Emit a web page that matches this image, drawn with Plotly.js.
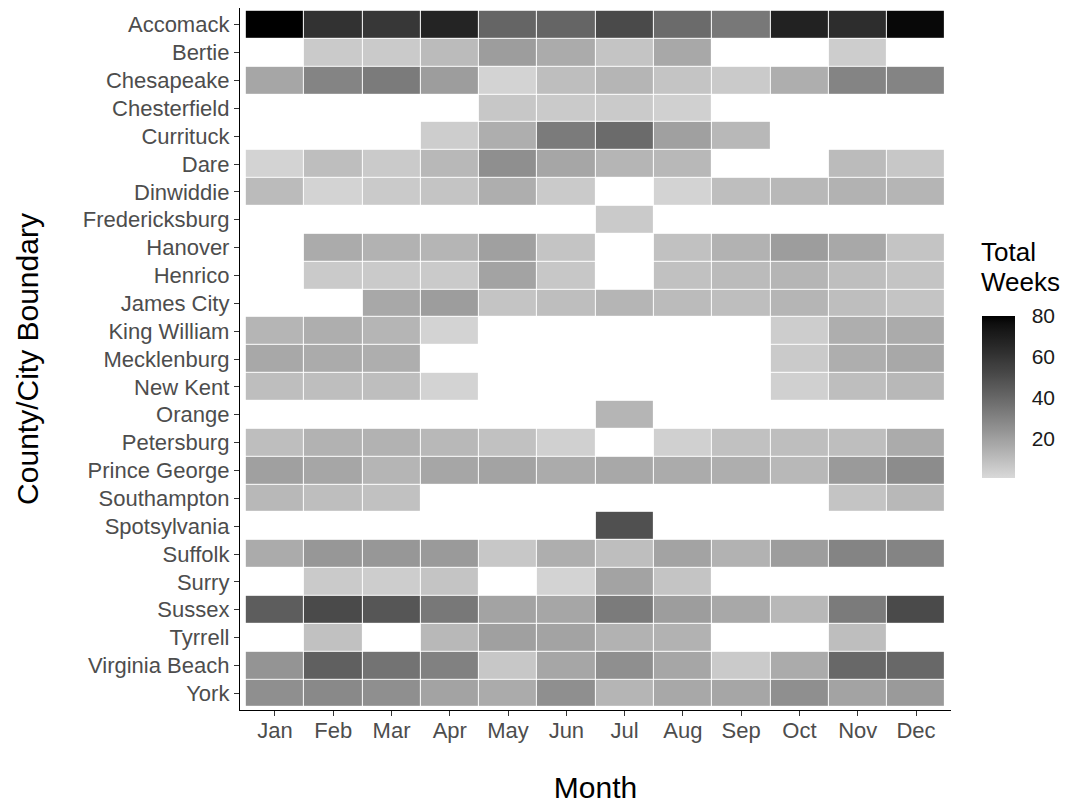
<!DOCTYPE html>
<html>
<head>
<meta charset="utf-8">
<script src="https://cdn.plot.ly/plotly-3.0.1.min.js"></script>
<style>html,body{margin:0;padding:0;background:#fff;}#chart{width:1077px;height:804px;}</style>
</head>
<body>
<div id="chart"></div>
<script>
var months = ["Jan","Feb","Mar","Apr","May","Jun","Jul","Aug","Sep","Oct","Nov","Dec"];
var counties = ["Accomack","Bertie","Chesapeake","Chesterfield","Currituck","Dare","Dinwiddie","Fredericksburg","Hanover","Henrico","James City","King William","Mecklenburg","New Kent","Orange","Petersburg","Prince George","Southampton","Spotsylvania","Suffolk","Surry","Sussex","Tyrrell","Virginia Beach","York"];

var accomack      = [80, 61, 59, 67, 41, 41, 51, 39, 34, 68, 63, 78];
var bertie        = [null, 6, 6, 11, 21, 16, 8, 17, null, null, 5, null];
var chesapeake    = [18, 30, 33, 21, 3, 10, 13, 8, 6, 15, 30, 30];
var chesterfield  = [null, null, null, null, 7, 6, 6, 4, null, null, null, null];
var currituck     = [null, null, null, 5, 15, 33, 39, 20, 12, null, null, null];
var dare          = [3, 10, 6, 12, 26, 18, 13, 12, null, null, 11, 7];
var dinwiddie     = [11, 3, 6, 8, 15, 6, null, 3, 10, 12, 14, 13];
var fredericksburg= [null, null, null, null, null, null, 6, null, null, null, null, null];
var hanover       = [null, 16, 14, 13, 20, 8, null, 9, 14, 21, 17, 8];
var henrico       = [null, 6, 6, 6, 19, 7, null, 9, 11, 13, 10, 8];
var jamesCity     = [null, null, 17, 21, 8, 10, 13, 11, 10, 13, 10, 8];
var kingWilliam   = [13, 15, 13, 3, null, null, null, null, null, 5, 15, 16];
var mecklenburg   = [17, 16, 15, null, null, null, null, null, null, 6, 15, 17];
var newKent       = [10, 10, 10, 3, null, null, null, null, null, 4, 10, 12];
var orange        = [null, null, null, null, null, null, 13, null, null, null, null, null];
var petersburg    = [10, 14, 14, 12, 9, 4, null, 4, 9, 10, 10, 16];
var princeGeorge  = [20, 18, 13, 18, 19, 16, 17, 16, 15, 12, 22, 27];
var southampton   = [12, 10, 9, null, null, null, null, null, null, null, 8, 12];
var spotsylvania  = [null, null, null, null, null, null, 49, null, null, null, null, null];
var suffolk       = [16, 23, 23, 22, 7, 15, 10, 19, 14, 21, 30, 30];
var surry         = [null, 6, 5, 8, null, 3, 19, 8, null, null, null, null];
var sussex        = [44, 51, 47, 34, 19, 18, 33, 21, 17, 12, 33, 51];
var tyrrell       = [null, 9, null, 12, 20, 19, 14, 14, null, null, 10, null];
var virginiaBeach = [24, 43, 36, 31, 7, 18, 26, 18, 6, 16, 40, 40];
var york          = [26, 28, 26, 19, 16, 26, 13, 17, 18, 26, 19, 22];

var z = [accomack, bertie, chesapeake, chesterfield, currituck, dare, dinwiddie, fredericksburg,
         hanover, henrico, jamesCity, kingWilliam, mecklenburg, newKent, orange, petersburg,
         princeGeorge, southampton, spotsylvania, suffolk, surry, sussex, tyrrell, virginiaBeach, york];

var colorbarTicks = [20, 40, 60, 80];
var legendTitleLines = ['Total', 'Weeks'];

// grey scale interpolated in CIELAB lightness (like ggplot2 scale_fill_gradient)
function greyFromL(L) {
  var Y = L > 8 ? Math.pow((L + 16) / 116, 3) : L / 903.3;
  var c = Y <= 0.0031308 ? 12.92 * Y : 1.055 * Math.pow(Y, 1 / 2.4) - 0.055;
  var g = Math.max(0, Math.min(255, Math.round(c * 255)));
  return 'rgb(' + g + ',' + g + ',' + g + ')';
}
var Llow = 86.7;
var scale = [];
for (var i = 0; i <= 40; i++) {
  var t = i / 40;
  scale.push([t, greyFromL(Llow * (1 - t))]);
}

var plotTop = 8, plotBottom = 710, plotLeft = 240, plotRight = 951;
var barTop = 316, barBottom = 478, barLeft = 982;
var FONT = 'Liberation Sans, Arial, sans-serif';
var pw = plotRight - plotLeft, ph = plotBottom - plotTop;
var titleLineY = [252, 282];

var trace = {
  type: 'heatmap',
  x: months,
  y: counties,
  z: z,
  zmin: 1,
  zmax: 80,
  colorscale: scale,
  xgap: 1,
  ygap: 1,
  hoverongaps: false,
  colorbar: {
    tickvals: colorbarTicks,
    ticktext: colorbarTicks.map(String),
    ticks: 'outside',
    ticklen: 13,
    tickcolor: '#ffffff',
    tickfont: {family: FONT, size: 21, color: '#1a1a1a'},
    thickness: 33,
    thicknessmode: 'pixels',
    len: barBottom - barTop,
    lenmode: 'pixels',
    x: (barLeft - plotLeft) / pw,
    xanchor: 'left',
    y: (plotBottom - barBottom) / ph,
    yanchor: 'bottom',
    outlinewidth: 0,
    xpad: 0,
    ypad: 0
  }
};

var annotations = legendTitleLines.map(function (txt, k) {
  return {
    text: txt,
    xref: 'paper', yref: 'paper',
    x: (barLeft - 3 - plotLeft) / pw,
    y: (plotBottom - titleLineY[k]) / ph,
    xanchor: 'left', yanchor: 'middle',
    align: 'left',
    showarrow: false,
    font: {family: FONT, size: 26, color: '#000'}
  };
});

var layout = {
  width: 1077,
  height: 804,
  margin: {l: plotLeft, r: 1077 - plotRight, t: plotTop, b: 804 - plotBottom},
  paper_bgcolor: '#ffffff',
  plot_bgcolor: '#ffffff',
  font: {family: FONT},
  xaxis: {
    type: 'category',
    categoryorder: 'array',
    categoryarray: months,
    range: [-0.6, 11.6],
    showgrid: false,
    zeroline: false,
    showline: true,
    linecolor: '#000',
    linewidth: 1.3,
    ticks: 'outside',
    ticklen: 5,
    tickcolor: '#333',
    ticklabelstandoff: -5,
    tickfont: {size: 22, color: '#4d4d4d'},
    title: {text: 'Month', font: {size: 30, color: '#000'}, standoff: 36}
  },
  yaxis: {
    type: 'category',
    categoryorder: 'array',
    categoryarray: counties,
    range: [24.6, -0.6],
    showgrid: false,
    zeroline: false,
    showline: true,
    linecolor: '#000',
    linewidth: 1.3,
    ticks: 'outside',
    ticklen: 5,
    tickcolor: '#333',
    tickfont: {size: 22, color: '#4d4d4d'},
    title: {text: 'County/City Boundary', font: {size: 30, color: '#000'}, standoff: 35}
  },
  annotations: annotations
};

Plotly.newPlot('chart', [trace], layout, {displayModeBar: false, responsive: false});
</script>
</body>
</html>
